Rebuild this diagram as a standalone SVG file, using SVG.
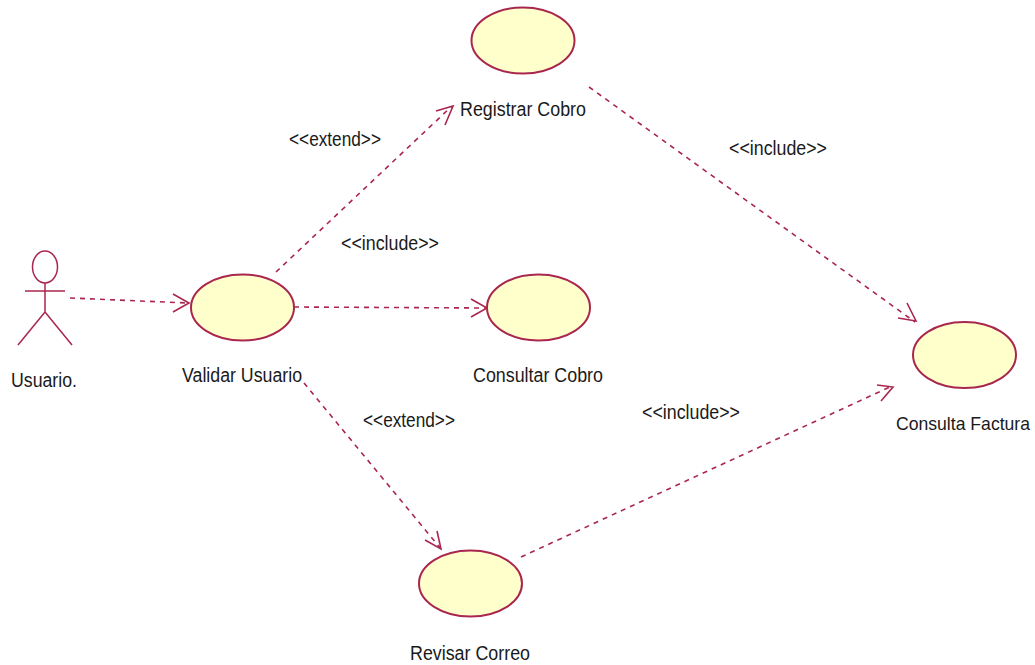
<svg xmlns="http://www.w3.org/2000/svg" width="1035" height="665" viewBox="0 0 1035 665">
<style>
.uc{fill:#ffffcb;stroke:#a9274f;stroke-width:2}
.act{fill:none;stroke:#a9274f;stroke-width:1.5}
.dep{fill:none;stroke:#a9274f;stroke-width:1.6;stroke-dasharray:5 5}
.head{fill:none;stroke:#a9274f;stroke-width:1.6}
text{font-family:"Liberation Sans",Arial,sans-serif;font-size:20px;fill:#1a1a1a;text-anchor:middle}
</style>
<rect width="1035" height="665" fill="#fff"/>
<g id="connectors">
<path class="dep" d="M70 298L188 303"/><path class="head" d="M173 294L189 303L173 312"/>
<path class="dep" d="M276 272L452 106"/><path class="head" d="M436 111L453 106L445 125"/>
<path class="dep" d="M294 307L486 308"/><path class="head" d="M471 299L487 308L471 317"/>
<path class="dep" d="M304 383L441 549"/><path class="head" d="M425 540L441 549L437 531"/>
<path class="dep" d="M589 87L915 322"/><path class="head" d="M898 318L916 321L907 303"/>
<path class="dep" d="M521 557L892 386"/><path class="head" d="M877 385L893 387L881 401"/>
</g>
<g id="actor-usuario">
<ellipse class="act" cx="45" cy="267" rx="12.500" ry="16"/>
<path class="act" d="M45 283V312M25 291H65M45 312L18 345M45 312L72 345"/>
<text x="44" y="387" textLength="66" lengthAdjust="spacingAndGlyphs">Usuario.</text>
</g>
<g id="uc-validar"><ellipse class="uc" cx="242.500" cy="307.500" rx="51.500" ry="33"/><text x="242" y="382" textLength="120" lengthAdjust="spacingAndGlyphs">Validar Usuario</text></g>
<g id="uc-registrar"><ellipse class="uc" cx="523" cy="40.500" rx="51.500" ry="33"/><text x="523" y="116" textLength="126" lengthAdjust="spacingAndGlyphs">Registrar Cobro</text></g>
<g id="uc-consultar"><ellipse class="uc" cx="538.500" cy="307.500" rx="51.500" ry="33"/><text x="538" y="382" textLength="130" lengthAdjust="spacingAndGlyphs">Consultar Cobro</text></g>
<g id="uc-factura"><ellipse class="uc" cx="964.500" cy="355" rx="51.500" ry="33"/><text x="963" y="430" style="font-size:18.500px" textLength="134" lengthAdjust="spacingAndGlyphs">Consulta Factura</text></g>
<g id="uc-revisar"><ellipse class="uc" cx="470.500" cy="583.500" rx="51.500" ry="33"/><text x="470" y="660" textLength="120" lengthAdjust="spacingAndGlyphs">Revisar Correo</text></g>
<g id="labels">
<text x="335" y="146" textLength="92" lengthAdjust="spacingAndGlyphs">&lt;&lt;extend&gt;&gt;</text>
<text x="390" y="250" textLength="98" lengthAdjust="spacingAndGlyphs">&lt;&lt;include&gt;&gt;</text>
<text x="778" y="155" textLength="98" lengthAdjust="spacingAndGlyphs">&lt;&lt;include&gt;&gt;</text>
<text x="409" y="427" textLength="92" lengthAdjust="spacingAndGlyphs">&lt;&lt;extend&gt;&gt;</text>
<text x="691" y="419" textLength="98" lengthAdjust="spacingAndGlyphs">&lt;&lt;include&gt;&gt;</text>
</g>
</svg>
